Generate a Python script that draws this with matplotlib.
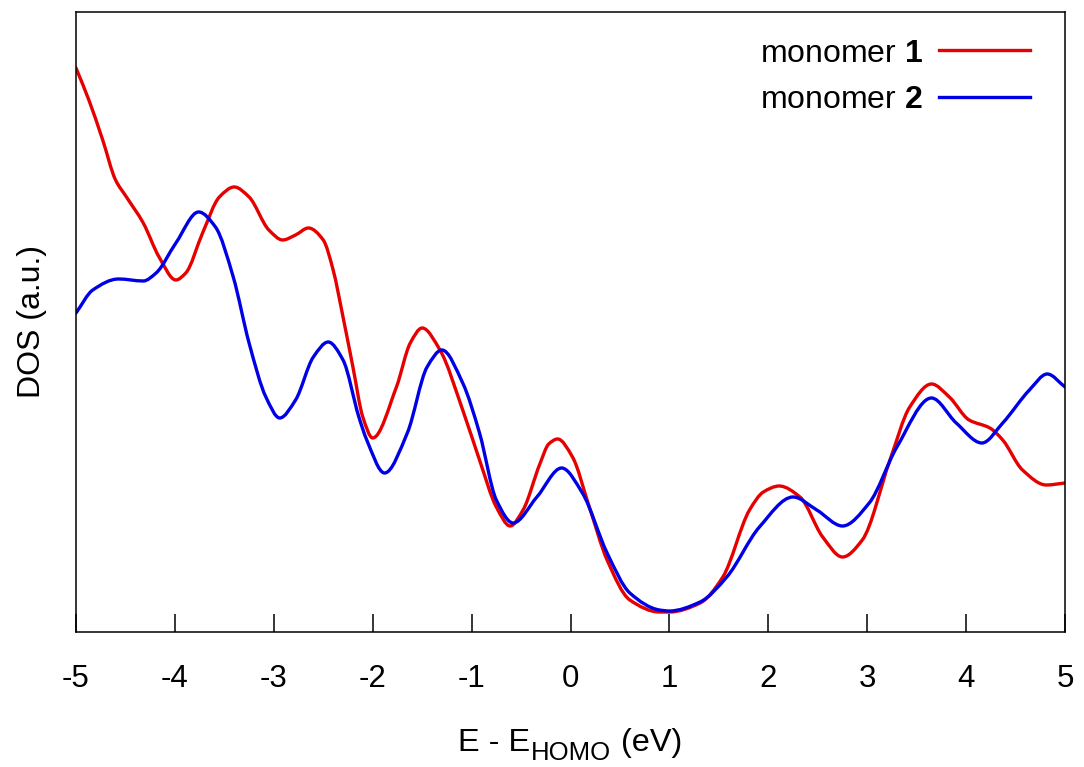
import matplotlib
matplotlib.use("Agg")
import numpy as np
import matplotlib.pyplot as plt
from matplotlib.path import Path
from matplotlib.patches import PathPatch
from matplotlib.lines import Line2D

plt.rcParams['font.family'] = ['Liberation Sans', 'DejaVu Sans']
plt.rcParams['mathtext.fontset'] = 'custom'
plt.rcParams['mathtext.rm'] = 'Liberation Sans'
plt.rcParams['mathtext.bf'] = 'Liberation Sans:bold'

# Density of states, monomer 1
energy_1 = [-5.00, -4.87, -4.73, -4.60, -4.49, -4.32, -4.16, -3.99, -3.89, -3.72,
            -3.55, -3.40, -3.25, -3.05, -2.91, -2.78, -2.65, -2.50, -2.40, -2.30,
            -2.20, -2.10, -2.00, -1.76, -1.62, -1.50, -1.32, -1.09, -0.92, -0.75,
            -0.61, -0.48, -0.31, -0.22, -0.13, 0.02, 0.19, 0.37, 0.60, 0.90, 1.00,
            1.31, 1.54, 1.81, 1.95, 2.11, 2.32, 2.55, 2.75, 2.95, 3.23, 3.43,
            3.65, 3.83, 4.03, 4.24, 4.37, 4.57, 4.81, 5.00]
dos_1 = [5.64, 5.32, 4.92, 4.52, 4.35, 4.09, 3.75, 3.52, 3.59, 3.99,
         4.35, 4.45, 4.35, 4.02, 3.92, 3.97, 4.04, 3.92, 3.62, 3.15,
         2.65, 2.15, 1.94, 2.45, 2.89, 3.04, 2.82, 2.22, 1.72, 1.25,
         1.06, 1.22, 1.68, 1.88, 1.93, 1.75, 1.25, 0.72, 0.32, 0.20, 0.20,
         0.29, 0.55, 1.22, 1.40, 1.46, 1.35, 0.95, 0.75, 0.92, 1.72, 2.25,
         2.48, 2.35, 2.12, 2.04, 1.92, 1.62, 1.47, 1.49]

# Density of states, monomer 2
energy_2 = [-5.00, -4.83, -4.57, -4.32, -4.19, -3.99, -3.76, -3.59, -3.41, -3.25,
            -3.08, -2.94, -2.78, -2.60, -2.45, -2.30, -2.14, -2.06, -1.88, -1.65,
            -1.45, -1.30, -1.09, -0.92, -0.75, -0.58, -0.34, -0.09, 0.12, 0.37,
            0.60, 0.90, 1.00, 1.31, 1.58, 1.91, 2.25, 2.49, 2.75, 3.02,
            3.30, 3.65, 3.90, 4.16, 4.37, 4.64, 4.82, 5.00]
dos_2 = [3.19, 3.42, 3.53, 3.51, 3.59, 3.89, 4.20, 4.05, 3.55, 2.89,
         2.35, 2.14, 2.32, 2.75, 2.90, 2.72, 2.15, 1.92, 1.59, 1.99,
         2.65, 2.82, 2.49, 1.99, 1.32, 1.09, 1.35, 1.64, 1.39, 0.79,
         0.39, 0.22, 0.21, 0.30, 0.55, 1.05, 1.35, 1.22, 1.06, 1.29,
         1.85, 2.34, 2.09, 1.89, 2.09, 2.42, 2.58, 2.45]

xticks = [-5, -4, -3, -2, -1, 0, 1, 2, 3, 4, 5]
series_labels = [r'monomer $\mathbf{1}$', r'monomer $\mathbf{2}$']
series_colors = ['#e60000', '#0000e6']


def smooth_path(x, y):
    """Cubic Bezier path through (x, y) with shape-preserving tangents."""
    x = np.asarray(x, float)
    y = np.asarray(y, float)
    h = np.diff(x)
    d = np.diff(y) / h
    m = np.zeros_like(y)
    m[0], m[-1] = d[0], d[-1]
    for i in range(1, len(y) - 1):
        if d[i - 1] * d[i] > 0:
            w1 = 2 * h[i] + h[i - 1]
            w2 = h[i] + 2 * h[i - 1]
            m[i] = (w1 + w2) / (w1 / d[i - 1] + w2 / d[i])
    verts = [(x[0], y[0])]
    codes = [Path.MOVETO]
    for i in range(len(x) - 1):
        verts += [(x[i] + h[i] / 3, y[i] + m[i] * h[i] / 3),
                  (x[i + 1] - h[i] / 3, y[i + 1] - m[i + 1] * h[i] / 3),
                  (x[i + 1], y[i + 1])]
        codes += [Path.CURVE4] * 3
    return Path(verts, codes)


fig = plt.figure(figsize=(10.84, 7.67), dpi=100)
ax = fig.add_axes([0.0701, 0.176, 0.9124, 0.8084])

for ex, dos, col in [(energy_1, dos_1, series_colors[0]),
                     (energy_2, dos_2, series_colors[1])]:
    ax.add_patch(PathPatch(smooth_path(ex, dos), fill=False, edgecolor=col,
                           lw=2.4, capstyle='round', joinstyle='round'))

ax.set_xlim(-5, 5)
ax.set_ylim(0, 6.2)
ax.set_xticks(xticks)
ax.set_xticklabels([str(t) for t in xticks])
ax.set_yticks([])
ax.tick_params(axis='x', direction='in', length=13, width=1.1,
               labelsize=22.5, pad=23)
for s in ax.spines.values():
    s.set_linewidth(1.1)

ax.set_ylabel('DOS (a.u.)', fontsize=23, labelpad=21)

# x-axis label with an enlarged subscript
fig.canvas.draw()
renderer = fig.canvas.get_renderer()
base_y = 1 - 751 / 767
t1 = fig.text(0.4225, base_y, 'E - E', fontsize=23.4, va='baseline', ha='left')
x_next = fig.transFigure.inverted().transform(
    (t1.get_window_extent(renderer).x1, 0))[0]
t2 = fig.text(x_next + 0.001, base_y - 9 / 767, 'HOMO', fontsize=18.5,
              va='baseline', ha='left')
x_next = fig.transFigure.inverted().transform(
    (t2.get_window_extent(renderer).x1, 0))[0]
fig.text(x_next + 0.009, base_y, '(eV)', fontsize=23.4, va='baseline', ha='left')

handles = [Line2D([], [], color=c, lw=2.4) for c in series_colors]
ax.legend(handles, series_labels, loc='upper right', frameon=False,
          markerfirst=False, fontsize=23, handlelength=2.85,
          labelspacing=0.52, borderaxespad=0, borderpad=0,
          handletextpad=0.5, bbox_to_anchor=(0.9646, 0.957))

fig.savefig('out.png', dpi=100)
